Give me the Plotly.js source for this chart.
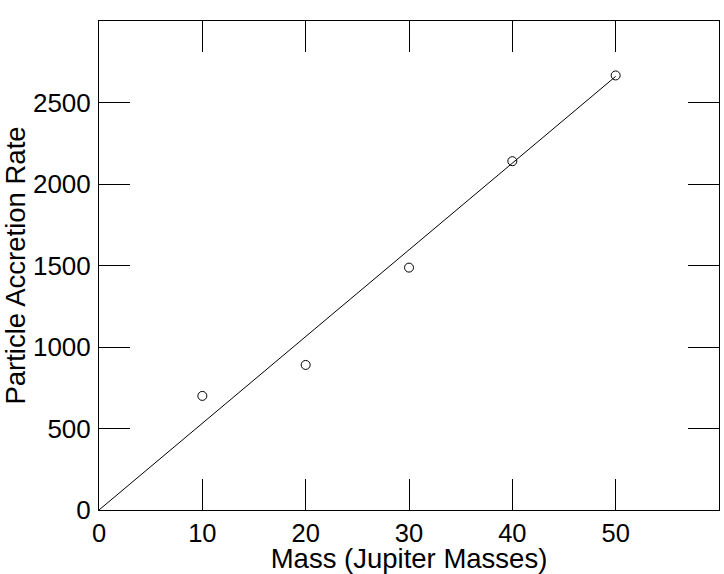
<!DOCTYPE html>
<html>
<head>
<meta charset="utf-8">
<script src="https://cdn.plot.ly/plotly-3.0.1.min.js"></script>
<style>
  html, body { margin: 0; padding: 0; background: #fff; }
  #chart { width: 724px; height: 574px; }
</style>
</head>
<body>
<div id="chart"></div>
<script>
// data
const massValues = [10, 20, 30, 40, 50];
const accretionValues = [700, 890, 1487, 2140, 2666];
const fitMass = [0, 50];
const fitRate = [0, 2660];
const xTicks = [0, 10, 20, 30, 40, 50];
const yTicks = [0, 500, 1000, 1500, 2000, 2500];

const FONT = '"Liberation Sans", Arial, Helvetica, sans-serif';

const traces = [
    {
        x: fitMass, y: fitRate,
        type: 'scatter', mode: 'lines',
        line: { color: '#000', width: 1 },
        hoverinfo: 'skip'
    },
    {
        x: massValues, y: accretionValues,
        type: 'scatter', mode: 'markers',
        marker: { symbol: 'circle-open', size: 9, color: '#000', line: { width: 1 } }
    }
];

const axisCommon = {
    showgrid: false, zeroline: false,
    showline: true, linecolor: '#000', linewidth: 1, mirror: 'ticks',
    ticks: 'inside', ticklen: 31, tickwidth: 1, tickcolor: '#000',
    tickfont: { family: FONT, size: 26, color: '#000' },
    fixedrange: true
};

const layout = {
    width: 724, height: 574,
    margin: { l: 99, r: 5, t: 21, b: 64 },
    paper_bgcolor: '#fff', plot_bgcolor: '#fff',
    showlegend: false,
    font: { family: FONT, color: '#000' },
    xaxis: Object.assign({}, axisCommon, {
        range: [0, 60],
        tickmode: 'array', tickvals: xTicks,
        tickfont: { family: FONT, size: 25.5, color: '#000' },
        ticklabelstandoff: 0,
        title: { text: 'Mass (Jupiter Masses)', font: { family: FONT, size: 27.5, color: '#000' }, standoff: 1 }
    }),
    yaxis: Object.assign({}, axisCommon, {
        range: [0, 3000],
        tickmode: 'array', tickvals: yTicks,
        ticklabelstandoff: 2,
        title: { text: 'Particle Accretion Rate', font: { family: FONT, size: 27.5, color: '#000' }, standoff: 0 }
    })
};

document.addEventListener('DOMContentLoaded', () => {
    Plotly.newPlot('chart', traces, layout, { displayModeBar: false, staticPlot: true });
});
</script>
</body>
</html>
